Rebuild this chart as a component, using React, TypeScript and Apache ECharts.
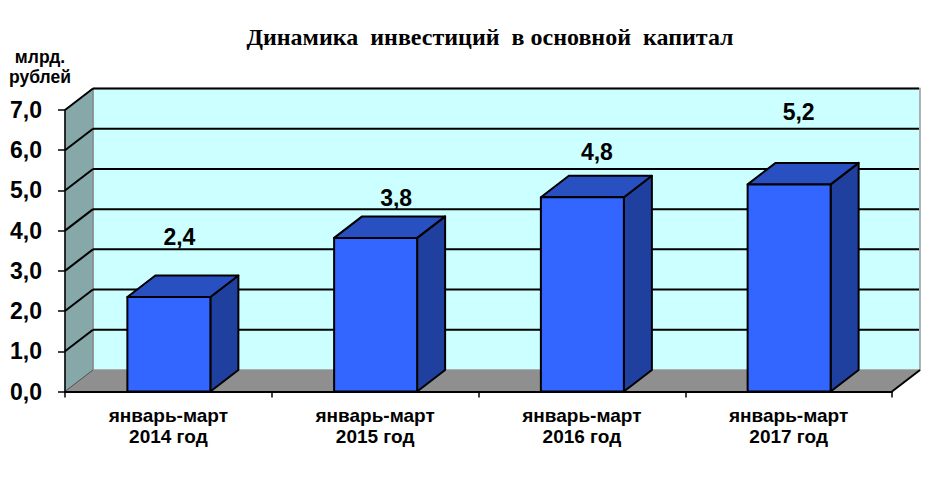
import React, { useEffect, useRef } from "react";
import * as echarts from "echarts";

const titleText = "Динамика  инвестиций  в основной  капитал";
const unitLines = "млрд.\nрублей";
const categories = ["январь-март\n2014 год", "январь-март\n2015 год", "январь-март\n2016 год", "январь-март\n2017 год"];
const barValues = [2.35, 3.82, 4.83, 5.15];
const barLabels = ["2,4", "3,8", "4,8", "5,2"];
const gridValues = [1, 2, 3, 4, 5, 6, 7];

const labelShift = [[11, -60], [21, -40], [15, -45], [10, -72]];
const DX = 28;
const DY = -21.5;
const BAR_WIDTH = 83;
const FONT = '"Liberation Sans", Arial, sans-serif';

export default function App() {
  const ref = useRef<HTMLDivElement | null>(null);
  useEffect(() => {
    const chart = echarts.init(ref.current!, undefined, { renderer: "svg" });
    const renderWalls = (params: any, api: any) => {
      const [x0, y0] = api.coord([categories[0], 0]);
      const size = api.size([1, 1]);
      const left = x0 - size[0] / 2;
      const right = left + size[0] * categories.length;
      const top = api.coord([categories[0], 7])[1];
      const children: any[] = [
        { type: "rect", shape: { x: left + DX, y: top + DY, width: right - left, height: y0 - top }, style: { fill: "#CCFFFF", stroke: "#999999", lineWidth: 1.5 } },
        { type: "polygon", shape: { points: [[left, y0], [left + DX, y0 + DY], [left + DX, top + DY], [left, top]] }, style: { fill: "#86A8A8", stroke: "#808080", lineWidth: 1 } },
        { type: "polygon", shape: { points: [[left, y0], [right, y0], [right + DX, y0 + DY], [left + DX, y0 + DY]] }, style: { fill: "#8F8F8F", stroke: "none" } },
        { type: "line", shape: { x1: left, y1: y0, x2: left + DX, y2: y0 + DY }, style: { stroke: "#555555", lineWidth: 1 } },
        { type: "line", shape: { x1: right, y1: y0, x2: right + DX, y2: y0 + DY }, style: { stroke: "#000000", lineWidth: 2 } },
      ];
      gridValues.forEach((v) => {
        const y = api.coord([categories[0], v])[1];
        children.push(
          { type: "line", shape: { x1: left, y1: y, x2: left + DX, y2: y + DY }, style: { stroke: "#000000", lineWidth: 2 } },
          { type: "line", shape: { x1: left + DX, y1: y + DY, x2: right + DX - 1, y2: y + DY }, style: { stroke: "#000000", lineWidth: 2 } },
        );
      });
      return params.dataIndex === 0 ? { type: "group", children } : { type: "group", children: [] };
    };
    const renderBar = (params: any, api: any) => {
      const cat = api.value(0);
      const value = api.value(1);
      const [cx, yTop] = api.coord([cat, value]);
      const yBase = api.coord([cat, 0])[1];
      const l = cx - BAR_WIDTH / 2 + 0.5;
      const r = l + BAR_WIDTH;
      const line = { stroke: "#000000", lineWidth: 2, lineJoin: "round" };
      const shift = labelShift[params.dataIndex];
      return {
        type: "group",
        children: [
          { type: "polygon", shape: { points: [[r, yTop], [r + DX, yTop + DY], [r + DX, yBase + DY], [r, yBase]] }, style: { fill: "#2040A0", ...line } },
          { type: "polygon", shape: { points: [[l, yTop], [l + DX, yTop + DY], [r + DX, yTop + DY], [r, yTop]] }, style: { fill: "#2850C0", ...line } },
          { type: "rect", shape: { x: l, y: yTop, width: BAR_WIDTH, height: yBase - yTop }, style: { fill: "#3366FF", ...line } },
          { type: "text", style: { text: barLabels[params.dataIndex], x: cx + shift[0], y: yTop + shift[1], textAlign: "center", textVerticalAlign: "middle", fontFamily: FONT, fontWeight: "bold", fontSize: 23, fill: "#000000" } },
        ],
      };
    };
    chart.setOption({
      animation: false,
      title: {
        text: titleText,
        left: 485,
        top: 20,
        textAlign: "center",
        textStyle: { fontFamily: '"Liberation Serif", "Times New Roman", serif', fontWeight: "bold", fontSize: 24, color: "#000000" },
      },
      grid: { left: 65, top: 110, width: 827, height: 281.5 },
      xAxis: {
        type: "category",
        data: categories,
        z: 3,
        axisLine: { lineStyle: { color: "#000000", width: 2 } },
        axisTick: { show: true, alignWithLabel: false, length: 6, lineStyle: { color: "#000000", width: 1.5 } },
        axisLabel: { fontFamily: FONT, fontWeight: "bold", fontSize: 19, color: "#000000", margin: 13, lineHeight: 21, interval: 0 },
      },
      yAxis: {
        type: "value",
        min: 0,
        max: 7,
        interval: 1,
        z: 3,
        splitLine: { show: false },
        axisLine: { show: true, lineStyle: { color: "#000000", width: 1.5 } },
        axisTick: { show: true, length: 7, lineStyle: { color: "#000000", width: 1.5 } },
        axisLabel: { fontFamily: FONT, fontWeight: "bold", fontSize: 23, color: "#000000", margin: 23, formatter: (v: number) => v.toFixed(1).replace(".", ",") },
      },
      graphic: [
        { type: "text", x: 40, y: 66.5, z: 10, style: { text: unitLines, textAlign: "center", textVerticalAlign: "middle", fontFamily: FONT, fontWeight: "bold", fontSize: 17.5, lineHeight: 20, fill: "#000000" } },
      ],
      series: [
        { type: "custom", name: "стены", silent: true, z: 1, data: categories.map((c) => [c, 0]), renderItem: renderWalls, clip: false },
        { type: "custom", name: "инвестиции", z: 2, data: categories.map((c, i) => [c, barValues[i]]), renderItem: renderBar, encode: { x: 0, y: 1 }, clip: false },
      ],
    });
    return () => chart.dispose();
  }, []);
  return <div ref={ref} style={{ position: "absolute", left: 0, top: 0, width: 936, height: 491, background: "#ffffff" }} />;
}
